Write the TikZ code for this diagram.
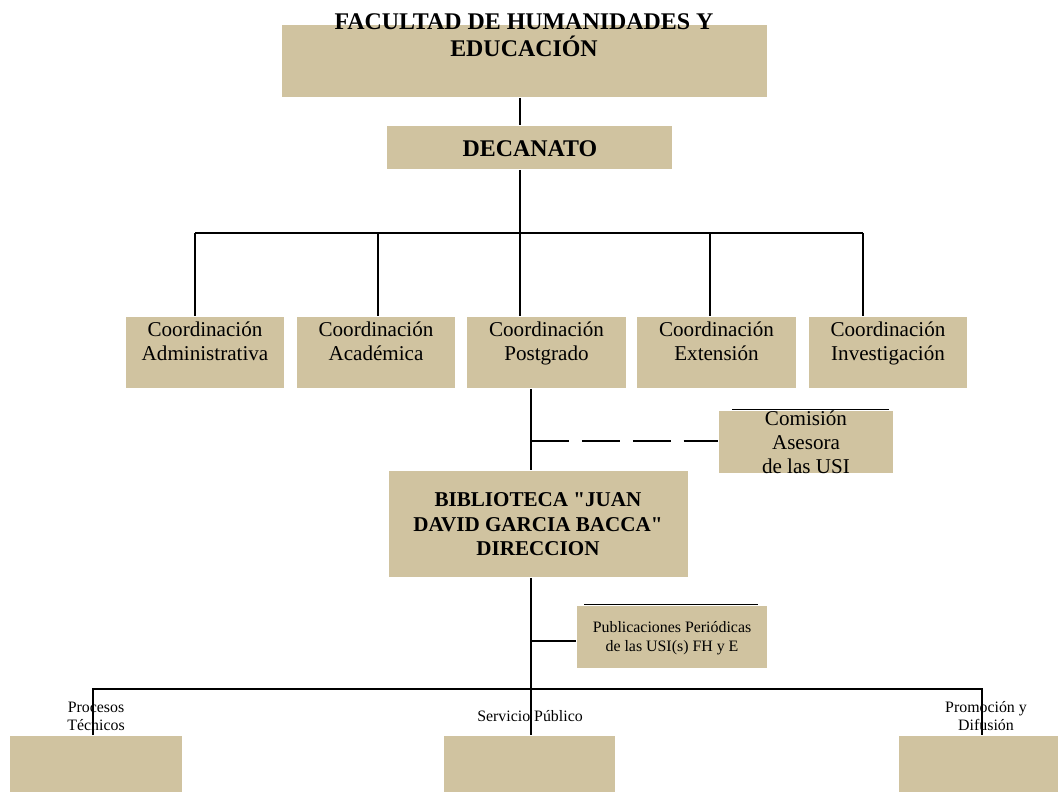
\documentclass[tikz,border=0pt]{standalone}
\usepackage{fontspec}
\setmainfont{Liberation Serif}
\definecolor{cajacol}{RGB}{208,195,160}
\tikzset{
  caja/.style={fill=cajacol, draw=none, inner sep=0pt},
  texto/.style={align=center, inner sep=0pt},
}
\begin{document}
\begin{tikzpicture}[x=0.025cm, y=-0.025cm, line width=1.3pt]
  \useasboundingbox (0,0) rectangle (1058,792);

  % --- Facultad y decanato ---
  \node[caja, minimum width=12.125cm, minimum height=1.8cm] (fac) at (524.5,61) {};
  \node[texto, font=\fontsize{17}{19.2}\selectfont\bfseries] (facT) at (524,35)
      {FACULTAD DE HUMANIDADES Y\\EDUCACIÓN};
  \node[caja, minimum width=7.125cm, minimum height=1.075cm] (dec) at (529.5,147.5) {};
  \node[texto, font=\fontsize{17}{19.2}\selectfont\bfseries] (decT) at (530,149) {DECANATO};

  % --- Coordinaciones ---
  \foreach \n/\x/\a/\b in {adm/205/Coordinación/Administrativa,
                           aca/376/Coordinación/Académica,
                           pos/546.5/Coordinación/Postgrado,
                           ext/716.5/Coordinación/Extensión,
                           inv/888/Coordinación/Investigación}{
    \node[caja, minimum width=3.95cm, minimum height=1.775cm] (\n) at (\x,352.5) {};
    \node[texto, font=\fontsize{15}{17}\selectfont] (\n T) at (\x,343.5) {\strut\a\\\strut\b};
  }

  % --- Comisión asesora ---
  \node[caja, minimum width=4.35cm, minimum height=1.55cm] (com) at (806,442) {};
  \draw[line width=0.6pt] ([shift={(14,-1)}]com.north west) -- ([shift={(-5,-1)}]com.north east);
  \node[texto, font=\fontsize{15}{17}\selectfont] (comT) at (806,442)
      {Comisión\\Asesora\\de las USI};

  % --- Biblioteca ---
  \node[caja, minimum width=7.475cm, minimum height=2.65cm] (bib) at (538.5,524) {};
  \node[texto, font=\fontsize{15}{17.4}\selectfont\bfseries] (bibT) at (538,524.5)
      {BIBLIOTECA \textquotedbl JUAN\\DAVID GARCIA BACCA\textquotedbl\\DIRECCION};

  % --- Publicaciones ---
  \node[caja, minimum width=4.75cm, minimum height=1.55cm] (pub) at (672,637) {};
  \draw[line width=0.6pt] ([shift={(8,-1)}]pub.north west) -- ([shift={(-10,-1)}]pub.north east);
  \node[texto, font=\fontsize{11.3}{13.5}\selectfont] (pubT) at (672,638.5)
      {Publicaciones Periódicas\\de las USI(s) FH y E};

  % --- Unidades inferiores ---
  \node[caja, minimum width=4.3cm, minimum height=1.4cm] (pro) at (96,764) {};
  \node[caja, minimum width=4.275cm, minimum height=1.4cm] (ser) at (529.5,764) {};
  \node[caja, minimum width=3.975cm, minimum height=1.4cm] (dif) at (978.5,764) {};

  % --- Conectores ---
  \coordinate (d1) at (195,233);
  \coordinate (d2) at (378,233);
  \coordinate (d3) at (520,233);
  \coordinate (d4) at (710,233);
  \coordinate (d5) at (863,233);
  \draw (fac.south -| d3) -- (dec.north -| d3);
  \draw (dec.south -| d3) -- (d3);
  \draw (d1) -- (d5);
  \foreach \c/\b in {d1/adm,d2/aca,d3/pos,d4/ext,d5/inv}
    \draw (\c) -- (\b.north -| \c);

  \coordinate (p1) at (531,441);
  \coordinate (p2) at (531,641);
  \draw (pos.south -| p1) -- (bib.north -| p1);
  \draw[dash pattern=on 27pt off 9.2pt] (p1) -- (com.west |- p1);
  \draw (bib.south -| p2) -- (ser.north -| p2);
  \draw (p2) -- (pub.west |- p2);

  \coordinate (q1) at (93,689);
  \coordinate (q2) at (982,689);
  \draw (pro.north -| q1) -- (q1) -- (q2) -- (dif.north -| q2);

  % --- Etiquetas inferiores ---
  \node[texto, font=\fontsize{11.3}{12.8}\selectfont] (proT) at (96,716) {Procesos\\Técnicos};
  \node[texto, font=\fontsize{11.3}{12.8}\selectfont] (serT) at (530,716) {Servicio Público};
  \node[texto, font=\fontsize{11.3}{12.8}\selectfont] (difT) at (986,716) {Promoción y\\Difusión};

\end{tikzpicture}
\end{document}
